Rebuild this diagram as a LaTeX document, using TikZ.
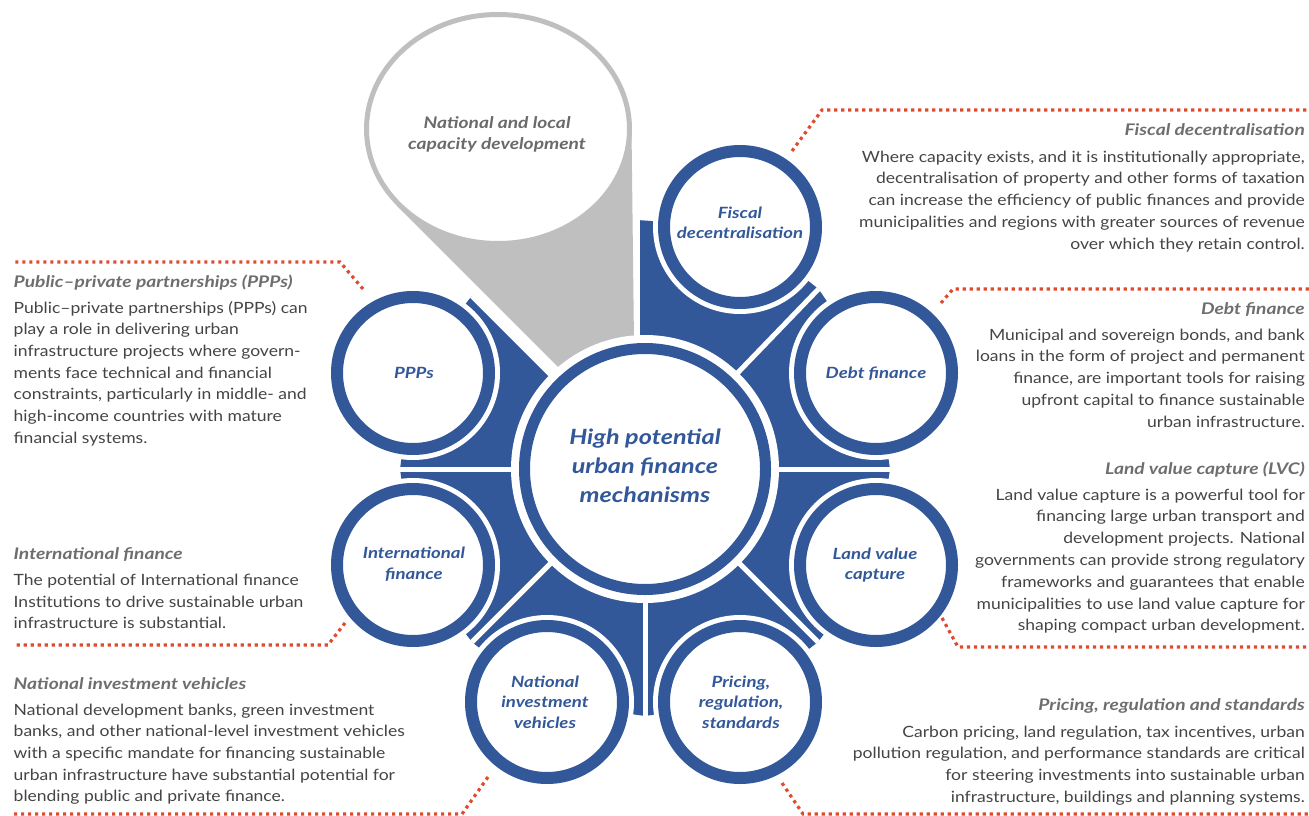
\documentclass[tikz,border=0pt]{standalone}
\usepackage{fontspec}
\setmainfont{Lato}[FakeStretch=1.13]
\newfontfamily\widebold{Lato}[FakeStretch=1.2]
\definecolor{hubblue}{HTML}{32589A}
\definecolor{balgray}{HTML}{BFBFBF}
\definecolor{ttlgray}{HTML}{6E6E6E}
\definecolor{txtgray}{HTML}{444444}
\definecolor{dotred}{HTML}{E04A2E}
\definecolor{balltxt}{HTML}{6A6A6A}
\tikzset{
  body/.style={font=\fontsize{15.5}{20}\selectfont, text=txtgray, inner sep=0pt},
  ttl/.style={font=\widebold\fontsize{16}{20}\selectfont\bfseries\itshape, text=ttlgray, inner sep=0pt},
  satlbl/.style={font=\widebold\fontsize{15.5}{20.5}\selectfont\bfseries\itshape, text=hubblue, align=center, inner sep=0pt},
  hublbl/.style={font=\widebold\fontsize{21}{29}\selectfont\bfseries\itshape, text=hubblue, align=center, inner sep=0pt},
  baltxt/.style={font=\widebold\fontsize{16}{21}\selectfont\bfseries\itshape, text=balltxt, align=center, inner sep=0pt},
  reddots/.style={draw=dotred, line width=3.2pt, dash pattern=on 3.2pt off 3.8pt},
  gapline/.style={draw=white, line width=5pt},
  satring/.style={draw=hubblue, line width=12pt, fill=white},
}
\newcommand\RBlock[5]{%
  \node[ttl, anchor=base east] (#1t) at (1305,#2) {#4};
  \foreach \l [count=\i from 0] in {#5} {\node[body, anchor=base east] (#1\i) at (1305,{#3+21.8*\i}) {\l};}
}
\newcommand\LBlock[5]{%
  \node[ttl, anchor=base west] (#1t) at (13.5,#2) {#4};
  \foreach \l [count=\i from 0] in {#5} {\node[body, anchor=base west] (#1\i) at (13.5,{#3+21.7*\i}) {\l};}
}
\begin{document}
\begin{tikzpicture}[x=1pt,y=-1pt]
\useasboundingbox (0,0) rectangle (1309,816);
% geometry
\coordinate (H) at (645,469);
\coordinate (S1) at (876,373);
\coordinate (S2) at (740,227);
\coordinate (S3) at (413,373);
\coordinate (S4) at (413,565);
\coordinate (S5) at (547,702);
\coordinate (S6) at (740,702);
\coordinate (S7) at (876,565);
\coordinate (E0) at (890,469);
\coordinate (E45) at (818.5,289);
\coordinate (Etop) at (637,220);
\coordinate (Etopin) at (637,400);
\coordinate (E135) at (471.8,295.8);
\coordinate (E180) at (400,469);
\coordinate (E225) at (472,642);
\coordinate (E270) at (645,716);
\coordinate (E315) at (818,642);
% blue sectors
\fill[hubblue] (E0) -- (S1) -- (E45) -- (S2) -- (Etop) -- (Etopin) -- (H) -- (E135) -- (S3) -- (E180) -- (S4) -- (E225) -- (S5) -- (E270) -- (S6) -- (E315) -- (S7) -- cycle;
% gray pointer
\fill[balgray] (397.1,206) -- (620,428.9) -- (635,429) -- (631.5,129) -- (498,129) -- cycle;
% gaps
\foreach \e in {E0,E45,E135,E180,E225,E270,E315} \draw[gapline] (H) -- (\e);
\draw[gapline] (Etopin) -- (Etop);
% hub
\fill[white] (H) circle[radius=134pt];
\draw[draw=hubblue, line width=11pt, fill=white] (H) circle[radius=120.5pt];
% satellites
\foreach \s in {S1,S2,S3,S4,S5,S6,S7} {
  \fill[white] (\s) circle[radius=87pt];
  \draw[satring] (\s) circle[radius=76pt];
}
% balloon
\draw[draw=balgray, line width=5pt, fill=white] (498,129) ellipse[x radius=131.5pt, y radius=114.5pt];
\node[baltxt] (bal) at (497,134) {National and local\\capacity development};
% labels
\node[hublbl] (hub) at (645,466) {High potential\\urban finance\\mechanisms};
\node[satlbl] (l1) at (876,374) {Debt finance};
\node[satlbl] (l2) at (740,223) {Fiscal\\decentralisation};
\node[satlbl] (l3) at (414,373) {PPPs};
\node[satlbl] (l4) at (414,564) {International\\finance};
\node[satlbl] (l5) at (545,702) {National\\investment\\vehicles};
\node[satlbl] (l6) at (741,702) {Pricing,\\regulation,\\standards};
\node[satlbl] (l7) at (875,565) {Land value\\capture};
% dotted connectors
\coordinate (d1a) at (792,151); \coordinate (d1b) at (822,110); \coordinate (d1c) at (1309,110);
\coordinate (d2a) at (941,303); \coordinate (d2b) at (953,289); \coordinate (d2c) at (1309,289);
\coordinate (d3a) at (363,289); \coordinate (d3b) at (340,262); \coordinate (d3c) at (12,262);
\coordinate (d4a) at (345,623); \coordinate (d4b) at (328,645); \coordinate (d4c) at (13,645);
\coordinate (d5a) at (488,777); \coordinate (d5b) at (462,814); \coordinate (d5c) at (13,814);
\coordinate (d6a) at (782,783); \coordinate (d6b) at (803,814); \coordinate (d6c) at (1309,814);
\coordinate (d7a) at (942,618); \coordinate (d7b) at (958,647); \coordinate (d7c) at (1309,647);
\foreach \k in {1,...,7} \draw[reddots] (d\k a) -- (d\k b) -- (d\k c);
% text blocks
\RBlock{fd}{135}{162}{Fiscal decentralisation}{{Where capacity exists, and it is institutionally appropriate,},{decentralisation of property and other forms of taxation},{can increase the efficiency of public finances and provide},{municipalities and regions with greater sources of revenue},{over which they retain control.}}
\RBlock{df}{314}{340}{Debt finance}{{Municipal and sovereign bonds, and bank},{loans in the form of project and permanent},{finance, are important tools for raising},{upfront capital to finance sustainable},{urban infrastructure.}}
\RBlock{lv}{474}{500}{Land value capture (LVC)}{{Land value capture is a powerful tool for},{financing large urban transport and},{development projects. National},{governments can provide strong regulatory},{frameworks and guarantees that enable},{municipalities to use land value capture for},{shaping compact urban development.}}
\RBlock{pr}{710}{737}{Pricing, regulation and standards}{{Carbon pricing, land regulation, tax incentives, urban},{pollution regulation, and performance standards are critical},{for steering investments into sustainable urban},{infrastructure, buildings and planning systems.}}
\LBlock{pp}{287}{313}{Public–private partnerships (PPPs)}{{Public–private partnerships (PPPs) can},{play a role in delivering urban},{infrastructure projects where govern-},{ments face technical and financial},{constraints, particularly in middle- and},{high-income countries with mature},{financial systems.}}
\LBlock{if}{559.5}{585.5}{International finance}{{The potential of International finance},{Institutions to drive sustainable urban},{infrastructure is substantial.}}
\LBlock{nv}{689.5}{715}{National investment vehicles}{{National development banks, green investment},{banks, and other national-level investment vehicles},{with a specific mandate for financing sustainable},{urban infrastructure have substantial potential for},{blending public and private finance.}}
\end{tikzpicture}
\end{document}
